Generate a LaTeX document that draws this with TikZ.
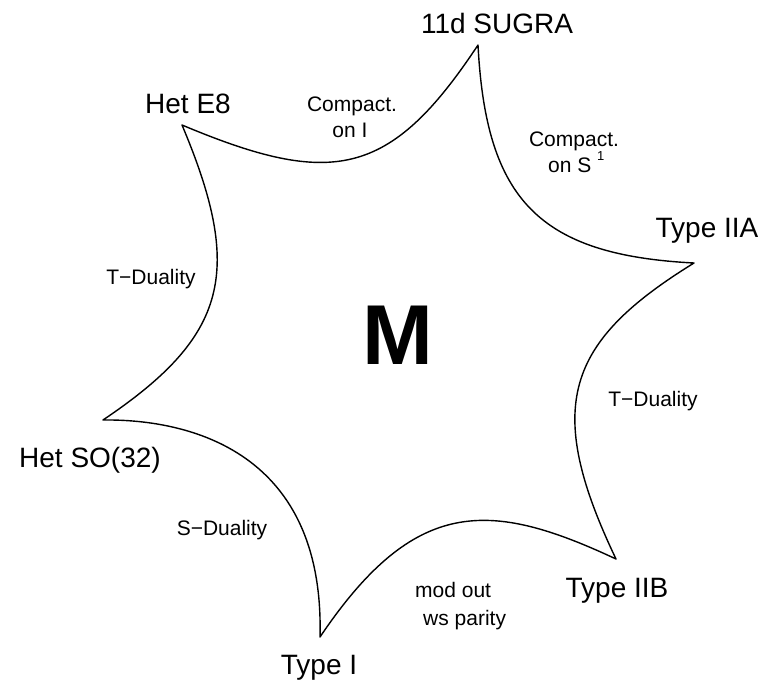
\documentclass[tikz,border=0pt]{standalone}
\usepackage{fontspec}
\setmainfont{Liberation Sans}
\begin{document}
\begin{tikzpicture}[x=1pt,y=-1pt,
  big/.style={font=\fontsize{28}{30}\selectfont, anchor=base, inner sep=0pt},
  small/.style={font=\fontsize{21}{24}\selectfont, anchor=base, inner sep=0pt},
  side/.style={line width=1.4pt, line join=round, line cap=round}]
\useasboundingbox (0,0) rectangle (762,680);
\coordinate (sugra) at (478,45);
\coordinate (iia) at (694,263);
\coordinate (iib) at (616,559);
\coordinate (ti) at (320,637);
\coordinate (so) at (103,420);
\coordinate (e8) at (182,125);
\draw[side] (sugra) .. controls (486,200) and (539,255) .. (iia)
  .. controls (566,342) and (543,406) .. (iib)
  .. controls (490,500) and (415,496) .. (ti)
  .. controls (325,445) and (180,419) .. (so)
  .. controls (228,336) and (244,272) .. (e8)
  .. controls (332,188) and (390,178) .. (sugra);
\node[big] (lsugra) at (497,33) {11d SUGRA};
\node[big] (le8) at (188,113) {Het E8};
\node[big] (liia) at (707,237) {Type IIA};
\node[big] (lso) at (90,467) {Het SO(32)};
\node[big] (liib) at (617,597) {Type IIB};
\node[big] (lti) at (319,674) {Type I};
\node[font=\bfseries\fontsize{85}{85}\selectfont, inner sep=0pt] (m) at (398,335) {M};
\node[small] (c1a) at (352,111) {Compact.};
\node[small] (c1b) at (350,137) {on I};
\node[small] (c2a) at (574,146) {Compact.};
\node[small, anchor=base west] (c2b) at (548,172) {on S {\fontsize{13}{13}\selectfont\raisebox{12pt}{1}}};
\node[small] (td1) at (151,284) {T−Duality};
\node[small] (td2) at (653,406) {T−Duality};
\node[small] (sd) at (222,535) {S−Duality};
\node[small, anchor=base west] (mo1) at (415,597) {mod out};
\node[small, anchor=base west] (mo2) at (423,625) {ws parity};
\end{tikzpicture}
\end{document}
